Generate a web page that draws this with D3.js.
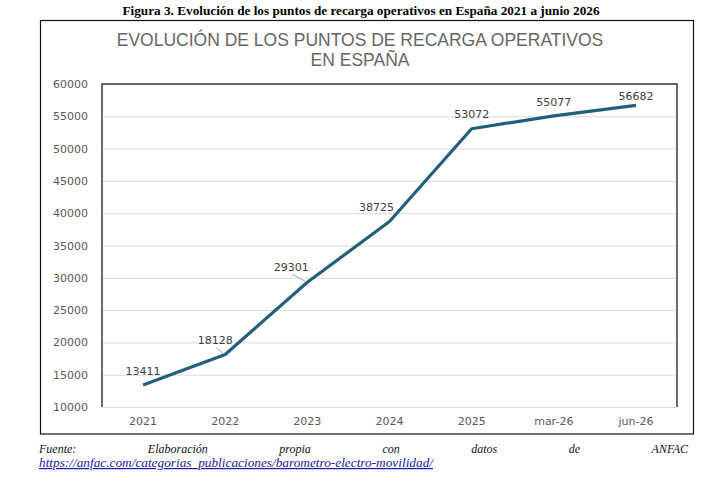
<!DOCTYPE html>
<meta charset="utf-8">
<style>
  body { margin: 0; background: #fff; }
  svg { display: block; }
</style>
<svg width="722" height="483"></svg>

<script src="https://d3js.org/d3.v7.min.js"></script>
<script>
var categories = ["2021", "2022", "2023", "2024", "2025", "mar-26", "jun-26"]
var values = [13411, 18128, 29301, 38725, 53072, 55077, 56682]
var yTicks = [10000, 15000, 20000, 25000, 30000, 35000, 40000, 45000, 50000, 55000, 60000]
var captionText = "Figura 3. Evolución de los puntos de recarga operativos en España 2021 a junio 2026"
var titleLines = ["EVOLUCIÓN DE LOS PUNTOS DE RECARGA OPERATIVOS", "EN ESPAÑA"]
var sourceWords = ["Fuente:", "Elaboración", "propia", "con", "datos", "de", "ANFAC"]
var sourceLink = "https://anfac.com/categorias_publicaciones/barometro-electro-movilidad/"

// label nudges (layout only, px)
var labelDx = [0, -10, -16, -13, 0, 0, 0]
var labelDy = [-14, -14, -15, -14, -15, -14, -9]
var leaders = { 1: true, 2: true }

var svg = d3.select('svg')
var plot = { left: 102, right: 677, top: 84, bottom: 407 }

var x = d3.scaleBand().domain(categories).range([plot.left, plot.right])
var y = d3.scaleLinear().domain([10000, 60000]).range([plot.bottom, plot.top])
function cx(c) { return x(c) + x.bandwidth() / 2 }

// caption
svg.append('text')
  .attr('x', 361).attr('y', 15)
  .attr('text-anchor', 'middle')
  .attr('font-family', 'Liberation Serif, serif')
  .attr('font-weight', 'bold')
  .attr('font-size', 13)
  .attr('textLength', 477)
  .attr('lengthAdjust', 'spacingAndGlyphs')
  .text(captionText)

// outer frame
svg.append('rect')
  .attr('x', 40.5).attr('y', 20.5)
  .attr('width', 653).attr('height', 413.5)
  .attr('fill', 'none').attr('stroke', '#111').attr('stroke-width', 1.2)

// chart title
svg.append('g').selectAll('text')
  .data(titleLines)
  .enter().append('text')
    .attr('x', 360)
    .attr('y', function (d, i) { return 46 + i * 20 })
    .attr('text-anchor', 'middle')
    .attr('font-family', 'Liberation Sans, Arial, sans-serif')
    .attr('font-size', 17.5)
    .attr('fill', '#666')
    .text(function (d) { return d })

// grid lines
svg.append('g')
  .attr('transform', 'translate(' + plot.left + ',0)')
  .call(d3.axisLeft(y).tickValues(yTicks).tickSize(-(plot.right - plot.left)).tickFormat(''))
  .call(function (g) { g.select('.domain').remove() })
  .call(function (g) { g.selectAll('line').attr('stroke', '#d9d9d9').attr('stroke-width', 1) })

// plot border (left, top, right)
svg.append('path')
  .attr('d', 'M' + plot.left + ',' + plot.bottom + 'V' + plot.top + 'H' + plot.right + 'V' + plot.bottom)
  .attr('fill', 'none').attr('stroke', '#3a3a3a').attr('stroke-width', 1.5)

// y axis labels
svg.append('g')
  .attr('transform', 'translate(' + plot.left + ',0)')
  .call(d3.axisLeft(y).tickValues(yTicks).tickSize(0).tickPadding(14).tickFormat(d3.format('d')))
  .call(function (g) { g.select('.domain').remove() })
  .call(function (g) {
    g.selectAll('text')
      .attr('font-family', 'DejaVu Sans, sans-serif')
      .attr('font-size', 11)
      .attr('fill', '#595959')
  })

// x axis labels
svg.append('g')
  .attr('transform', 'translate(0,' + plot.bottom + ')')
  .call(d3.axisBottom(x).tickSize(0).tickPadding(10))
  .call(function (g) { g.select('.domain').remove() })
  .call(function (g) {
    g.selectAll('text')
      .attr('font-family', 'DejaVu Sans, sans-serif')
      .attr('font-size', 11)
      .attr('fill', '#595959')
  })

// line
var line = d3.line()
  .x(function (d, i) { return cx(categories[i]) })
  .y(function (d) { return y(d) })

svg.append('path')
  .datum(values)
  .attr('d', line)
  .attr('fill', 'none')
  .attr('stroke', '#215f7a')
  .attr('stroke-width', 3.2)
  .attr('stroke-linejoin', 'round')

// leader lines
svg.append('g').selectAll('line')
  .data(values.map(function (v, i) { return { v: v, i: i } }).filter(function (d) { return leaders[d.i] }))
  .enter().append('line')
    .attr('x1', function (d) { return cx(categories[d.i]) + labelDx[d.i] + 1 })
    .attr('y1', function (d) { return y(d.v) + labelDy[d.i] + 7 })
    .attr('x2', function (d) { return cx(categories[d.i]) - 2 })
    .attr('y2', function (d) { return y(d.v) - 1 })
    .attr('stroke', '#a6a6a6').attr('stroke-width', 1)

// data labels
svg.append('g').selectAll('text')
  .data(values)
  .enter().append('text')
    .attr('x', function (d, i) { return cx(categories[i]) + labelDx[i] })
    .attr('y', function (d, i) { return y(d) + labelDy[i] + 4 })
    .attr('text-anchor', 'middle')
    .attr('font-family', 'DejaVu Sans, sans-serif')
    .attr('font-size', 11)
    .attr('fill', '#404040')
    .text(function (d) { return d })

// source line, justified
var srcG = svg.append('g')
var srcTexts = srcG.selectAll('text')
  .data(sourceWords)
  .enter().append('text')
    .attr('y', 453)
    .attr('font-family', 'Liberation Serif, serif')
    .attr('font-style', 'italic')
    .attr('font-size', 12)
    .attr('fill', '#111')
    .text(function (d) { return d })
var widths = []
srcTexts.each(function () { widths.push(this.getComputedTextLength()) })
var total = d3.sum(widths)
var gap = (688 - 39 - total) / (sourceWords.length - 1)
var pos = 39
srcTexts.attr('x', function (d, i) { var p = pos; pos += widths[i] + gap; return p })

svg.append('text')
  .attr('x', 39).attr('y', 467)
  .attr('font-family', 'Liberation Serif, serif')
  .attr('font-style', 'italic')
  .attr('font-size', 12)
  .attr('fill', '#1a1aa8')
  .attr('text-decoration', 'underline')
  .attr('textLength', 394)
  .attr('lengthAdjust', 'spacingAndGlyphs')
  .text(sourceLink)
</script>
